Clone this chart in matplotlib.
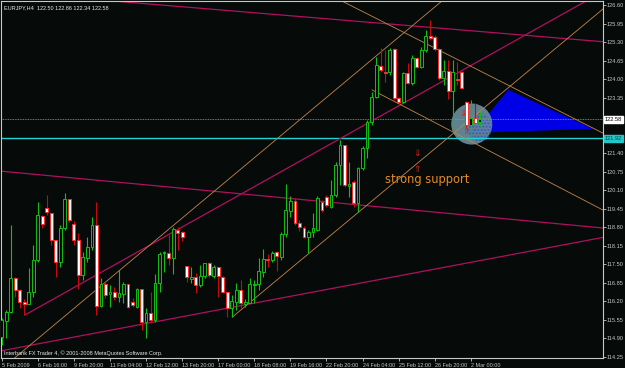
import matplotlib
matplotlib.use('Agg')
import matplotlib.pyplot as plt
from matplotlib.patches import Rectangle, Polygon, Ellipse
import matplotlib.transforms as mtransforms

# ---------------- data (EURJPY H4) ----------------
opens = [114.95,115.50,115.83,117.01,116.59,116.18,116.11,116.53,117.65,119.20,
         119.48,119.29,118.35,117.57,118.76,119.79,118.90,118.35,117.12,117.73,
         118.11,118.87,116.04,116.79,116.44,116.51,116.36,116.44,116.79,116.16,
         116.01,116.63,115.48,115.77,115.54,116.83,117.88,117.90,117.71,118.70,
         118.63,117.43,116.99,117.06,116.77,117.08,117.55,117.08,117.39,117.06,
         116.53,115.95,116.18,116.59,116.10,116.15,116.76,116.79,117.23,117.69,
         117.65,117.93,117.74,118.56,119.38,119.73,118.96,118.76,118.46,118.64,
         118.70,119.67,119.87,119.52,119.93,120.98,121.68,120.25,120.40,119.64,
         120.87,121.57,122.50,123.38,124.47,124.26,124.24,125.05,123.34,123.18,
         124.20,123.85,124.75,124.43,125.02,125.52,125.47,125.04,124.03,124.28,
         123.59,124.00,124.23,123.20,122.39,122.62,122.50]
highs = [115.61,115.89,118.87,117.05,116.63,116.28,117.36,118.17,119.69,119.23,
         119.93,119.30,118.35,118.87,120.00,119.79,119.02,118.59,117.94,118.46,
         119.17,119.69,117.01,116.88,116.77,116.71,117.30,116.88,116.79,116.30,
         116.65,116.63,115.95,116.53,117.15,117.94,117.98,118.52,118.79,118.79,
         118.67,117.43,117.41,117.18,117.47,117.55,117.59,117.47,117.41,117.08,
         116.53,116.42,116.83,116.94,116.27,117.00,116.94,117.71,118.02,117.86,
         117.98,117.98,118.64,120.31,119.89,119.81,119.05,118.84,118.70,119.29,
         119.89,119.75,119.93,120.45,121.10,121.86,121.68,121.10,120.45,120.92,
         121.65,122.56,123.56,124.78,125.08,125.02,125.08,125.08,123.38,124.26,
         124.55,124.84,124.78,125.14,125.72,126.07,125.55,125.09,124.67,124.67,
         124.67,124.61,124.28,123.24,123.26,123.17,122.86]
lows = [114.66,114.91,115.78,116.35,115.96,115.71,116.10,116.35,117.59,118.77,
        119.23,118.17,117.06,117.41,118.70,118.99,118.17,116.63,116.94,117.59,
        118.00,115.71,116.01,116.30,116.01,116.24,116.18,116.13,115.95,116.01,
        115.95,115.19,114.90,115.48,115.48,116.53,117.23,117.47,117.15,118.00,
        118.32,116.88,116.83,116.50,116.71,117.00,117.06,117.00,116.36,116.50,
        115.65,115.65,115.89,115.95,116.01,116.13,116.13,116.59,117.06,117.41,
        117.59,117.27,117.65,118.46,119.17,118.87,118.67,118.41,117.90,118.46,
        118.66,119.34,119.52,119.46,119.87,120.28,120.22,119.87,119.52,119.34,
        120.81,121.22,122.39,123.32,124.26,123.91,124.14,123.26,123.09,123.15,
        123.82,123.79,124.38,124.38,124.96,125.37,124.98,123.97,123.79,123.30,
        122.11,123.79,123.69,122.33,121.96,122.45,122.34]
closes = [115.54,115.83,117.02,116.59,116.17,116.11,116.53,117.65,119.23,118.90,
          119.32,118.35,117.57,118.76,119.79,119.05,118.35,117.12,117.76,118.11,
          118.87,116.04,116.79,116.42,116.51,116.36,116.48,116.79,116.01,116.07,
          116.63,115.48,115.77,115.54,116.83,117.85,117.93,117.71,118.72,118.60,
          118.46,117.06,117.04,116.77,117.08,117.53,117.12,117.41,117.08,116.53,
          115.95,116.21,116.59,116.13,116.18,116.79,116.80,117.27,117.67,117.64,
          117.90,117.79,118.56,119.40,119.73,118.96,118.79,118.46,118.63,118.76,
          119.82,119.40,119.58,119.93,120.98,121.68,120.28,120.30,119.64,120.87,
          121.57,122.50,123.38,124.49,124.32,124.21,125.02,123.34,123.18,124.20,
          123.85,124.75,124.43,125.02,125.52,125.45,125.04,124.03,124.29,123.59,
          124.26,123.97,123.70,122.39,122.62,122.47,122.58]

time_labels = ["5 Feb 2009", "6 Feb 16:00", "9 Feb 20:00", "11 Feb 04:00",
               "12 Feb 12:00", "13 Feb 20:00", "17 Feb 00:00", "18 Feb 08:00",
               "19 Feb 16:00", "22 Feb 20:00", "24 Feb 04:00", "25 Feb 12:00",
               "26 Feb 20:00", "2 Mar 00:00"]
time_label_bars = [0, 8, 16, 24, 32, 40, 48, 56, 64, 72, 80, 88, 96, 104]

price_ticks = [126.60, 125.95, 125.30, 124.65, 124.00, 123.35, 122.70, 122.05,
               121.40, 120.75, 120.10, 119.45, 118.80, 118.15, 117.50, 116.85,
               116.20, 115.55, 114.90, 114.25]

bid_price = 122.58
support_price = 121.92

# trend lines: (bar, price) endpoints
magenta_lines = [
    [(26.2, 126.72), (133.3, 125.31)],
    [(-0.4, 120.77), (133.3, 118.77)],
    [(-0.4, 114.45), (133.3, 118.44)],
    [(5.2, 115.72), (130.0, 126.78)],
]
orange_lines = [
    [(2.9, 114.21), (97.9, 126.78)],
    [(51.1, 115.64), (133.3, 126.46)],
    [(82.1, 123.62), (133.3, 119.40)],
    [(75.4, 126.74), (133.3, 122.10)],
]
triangle = [(104.5, 122.11), (112.3, 123.62), (131.1, 122.25)]
circle_center = (104.2, 122.42)
circle_size = (9.1, 1.44)
arrows_down = [(92.0, 121.39), (102.1, 122.80)]
arrows_up = [(92.1, 120.87), (102.9, 122.21)]
note_text = "strong support"
note_pos = (85.0, 120.35)

title = "EURJPY,H4  122.50 122.86 122.34 122.58"
copyright_text = "Interbank FX Trader 4, \u00a9 2001-2008 MetaQuotes Software Corp."

# ---------------- styling ----------------
BG = '#060b09'
GREEN = '#12c012'
RED = '#ff2a2a'
RED_WICK = '#c80a0a'
MAG = '#b0105e'
ORG = '#c4844c'
AXC = '#c8c8c8'
FONT = 'Liberation Sans'

W, H = 625, 368
fig = plt.figure(figsize=(W / 100, H / 100), dpi=100, facecolor=BG)
ax = fig.add_axes([1 / W, 10 / H, 602 / W, 357 / H])
ax.set_facecolor(BG)

n = len(opens)
ax.set_xlim(-0.155, 133.3)
ax.set_ylim(114.206, 126.74)

# background objects
ax.add_patch(Polygon(triangle, closed=True, facecolor='#0000e6', edgecolor='none', zorder=1))
ax.add_patch(Ellipse(circle_center, circle_size[0], circle_size[1], facecolor='#6a909e',
                     edgecolor='none', alpha=0.9, zorder=1.5))
ax.add_patch(Ellipse((circle_center[0] + 1.8, circle_center[1] - 0.12), circle_size[0] * 0.6,
                     circle_size[1] * 0.7, facecolor='none', edgecolor='#3050c0',
                     hatch='.....', linewidth=0, alpha=0.8, zorder=1.6))

ax.axhline(support_price, color='#22d3d3', lw=1.0, zorder=2)
ax.axhline(bid_price, color='#9a9a9a', lw=0.6, ls=(0, (1, 1)), zorder=2)

for (x0, y0), (x1, y1) in magenta_lines:
    ax.plot([x0, x1], [y0, y1], color=MAG, lw=0.9, zorder=2.5)
for (x0, y0), (x1, y1) in orange_lines:
    ax.plot([x0, x1], [y0, y1], color=ORG, lw=0.6, zorder=2.5)

# candles
bw = 0.62
for i in range(n):
    o, h, l, c = opens[i], highs[i], lows[i], closes[i]
    up = c >= o
    ax.plot([i, i], [l, h], color=GREEN if up else RED_WICK, lw=0.8, zorder=3,
            solid_capstyle='butt')
    lo, hi = min(o, c), max(o, c)
    if hi - lo < 0.03:
        ax.plot([i - bw / 2, i + bw / 2], [o, o], color=GREEN if up else RED, lw=0.9, zorder=4)
    else:
        ax.add_patch(Rectangle((i - bw / 2, lo), bw, hi - lo,
                               facecolor=BG if up else 'white',
                               edgecolor=GREEN if up else RED, lw=0.7, zorder=4))

# arrows & note
for x, y in arrows_down:
    ax.text(x, y, r'$\Downarrow$', color='#d02020', fontsize=6.5,
            ha='center', va='center', zorder=5)
for x, y in arrows_up:
    ax.text(x, y, r'$\Uparrow$', color='#d02020', fontsize=6.5,
            ha='center', va='center', zorder=5)
ax.text(note_pos[0], note_pos[1], note_text, color='#e48a26', fontsize=8.3,
        family='DejaVu Sans', ha='left', va='baseline', zorder=5)

# axes frame
for s in ax.spines.values():
    s.set_color(AXC)
    s.set_linewidth(0.8)

ax.yaxis.tick_right()
ax.set_yticks(price_ticks)
covered = (122.70, 122.05)   # hidden behind the price boxes
ax.set_yticklabels(["" if p in covered else f"{p:.2f}" for p in price_ticks])
ax.tick_params(axis='y', colors=AXC, length=2, width=0.6, pad=0.4, labelsize=4.1)
ax.set_xticks(time_label_bars)
ax.set_xticklabels(time_labels)
ax.tick_params(axis='x', colors=AXC, length=2.5, width=0.6, pad=1.0, labelsize=3.9)
for lbl in ax.get_xticklabels():
    lbl.set_ha('left')
    lbl.set_family(FONT)
for lbl in ax.get_yticklabels():
    lbl.set_family(FONT)

# price boxes on the right scale
bt = mtransforms.blended_transform_factory(fig.transFigure, ax.transData)
ax.text(605 / W, bid_price, f"{bid_price:.2f}", transform=bt, fontsize=4.1, family=FONT,
        color='black', va='center', ha='left', zorder=10, clip_on=False,
        bbox=dict(boxstyle='square,pad=0.2', facecolor='white', edgecolor='white'))
ax.text(605 / W, support_price, f"{support_price:.2f}", transform=bt, fontsize=4.1,
        family=FONT, color='#0a3a3a', va='center', ha='left', zorder=10, clip_on=False,
        bbox=dict(boxstyle='square,pad=0.2', facecolor='#22c8c8', edgecolor='#22c8c8'))

ax.text(3 / 602, 1 - 6.5 / 357, title, transform=ax.transAxes, color='#e8e8e8',
        fontsize=4.0, family=FONT, ha='left', va='center', zorder=10)
ax.text(3 / 602, 4.5 / 357, copyright_text, transform=ax.transAxes, color='#e8e8e8',
        fontsize=4.0, family=FONT, ha='left', va='center', zorder=10)

fig.savefig('out.png', dpi=100, facecolor=BG)
